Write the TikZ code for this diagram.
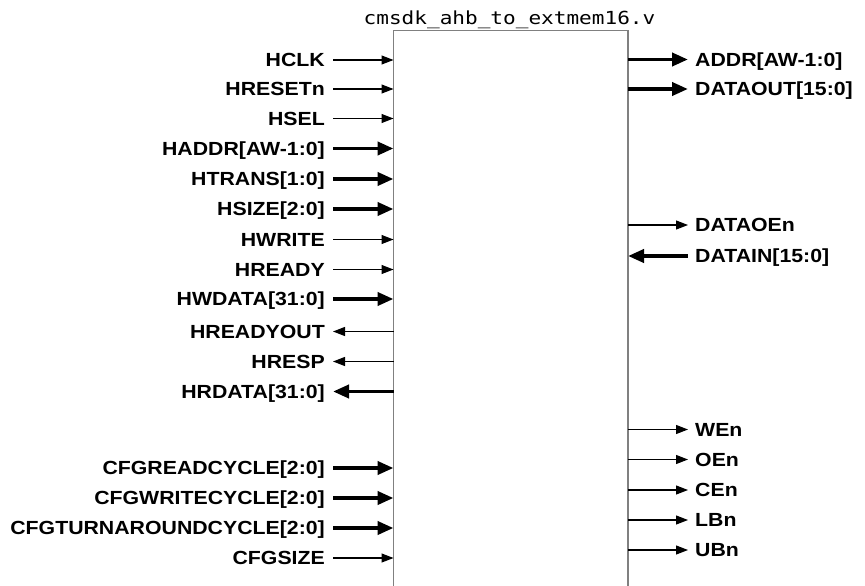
\documentclass[tikz,border=0pt]{standalone}
\usepackage{fontspec}
\setmainfont{Liberation Sans}[FakeStretch=1.12]
\newfontfamily\titlefont{DejaVu Sans Mono}[FakeStretch=1.17]
\usetikzlibrary{arrows.meta}
\begin{document}
\begin{tikzpicture}[x=1pt,y=-1pt,
  sig/.style={font=\bfseries\fontsize{19}{19}\selectfont, text height=13.6pt, text depth=0pt, inner ysep=0pt},
  lsig/.style={sig, anchor=east, inner xsep=8pt},
  rsig/.style={sig, anchor=west, inner xsep=7pt},
  fwdn/.style={line width=1.1pt, -{Triangle[length=12pt,width=9pt]}},
  revn/.style={line width=1.1pt, {Triangle[length=12pt,width=9pt]}-},
  fwdb/.style={line width=3.8pt, -{Triangle[length=16pt,width=13pt]}},
  revb/.style={line width=3.8pt, {Triangle[length=16pt,width=13pt]}-},
  blockbox/.style={draw=black!50, line width=1.5pt, anchor=north west, inner sep=0pt, outer sep=0pt,
    minimum width=234.5pt, minimum height=700pt}
]
\useasboundingbox (0,0) rectangle (865,586);
\clip (0,0) rectangle (865,586);
\fill[white] (0,0) rectangle (865,586);
\node[blockbox] (blk) at (393.5,30.5) {};
\node[font=\titlefont\fontsize{18}{18}\selectfont, anchor=base, inner sep=0pt] (title) at (509.5,25) {cmsdk\_ahb\_to\_extmem16.v};
% left side
\foreach \nm/\txt/\yy/\st in {
  hclk/HCLK/60/fwdn,
  hresetn/HRESETn/89/fwdn,
  hsel/HSEL/118.5/fwdn,
  haddr/HADDR[AW-1:0]/148.5/fwdb,
  htrans/HTRANS[1:0]/179/fwdb,
  hsize/HSIZE[2:0]/209/fwdb,
  hwrite/HWRITE/239.5/fwdn,
  hready/HREADY/269.5/fwdn,
  hwdata/HWDATA[31:0]/299/fwdb,
  hreadyout/HREADYOUT/331.5/revn,
  hresp/HRESP/361.5/revn,
  hrdata/HRDATA[31:0]/391.5/revb,
  cfgread/CFGREADCYCLE[2:0]/468/fwdb,
  cfgwrite/CFGWRITECYCLE[2:0]/498/fwdb,
  cfgturn/CFGTURNAROUNDCYCLE[2:0]/528/fwdb,
  cfgsize/CFGSIZE/558/fwdn}{
  \node[lsig] (\nm) at (333,\yy) {\txt};
  \draw[\st] (\nm) -- (\nm -| blk.west);
}
% right side
\foreach \nm/\txt/\yy/\st in {
  addr/ADDR[AW-1:0]/59.5/fwdb,
  dataout/DATAOUT[15:0]/89/fwdb,
  dataoen/DATAOEn/225/fwdn,
  datain/DATAIN[15:0]/256/revb,
  wen/WEn/429.5/fwdn,
  oen/OEn/459.5/fwdn,
  cen/CEn/490/fwdn,
  lbn/LBn/520/fwdn,
  ubn/UBn/550/fwdn}{
  \node[rsig] (\nm) at (688,\yy) {\txt};
  \draw[\st] (\nm -| blk.east) -- (\nm);
}
\end{tikzpicture}
\end{document}
